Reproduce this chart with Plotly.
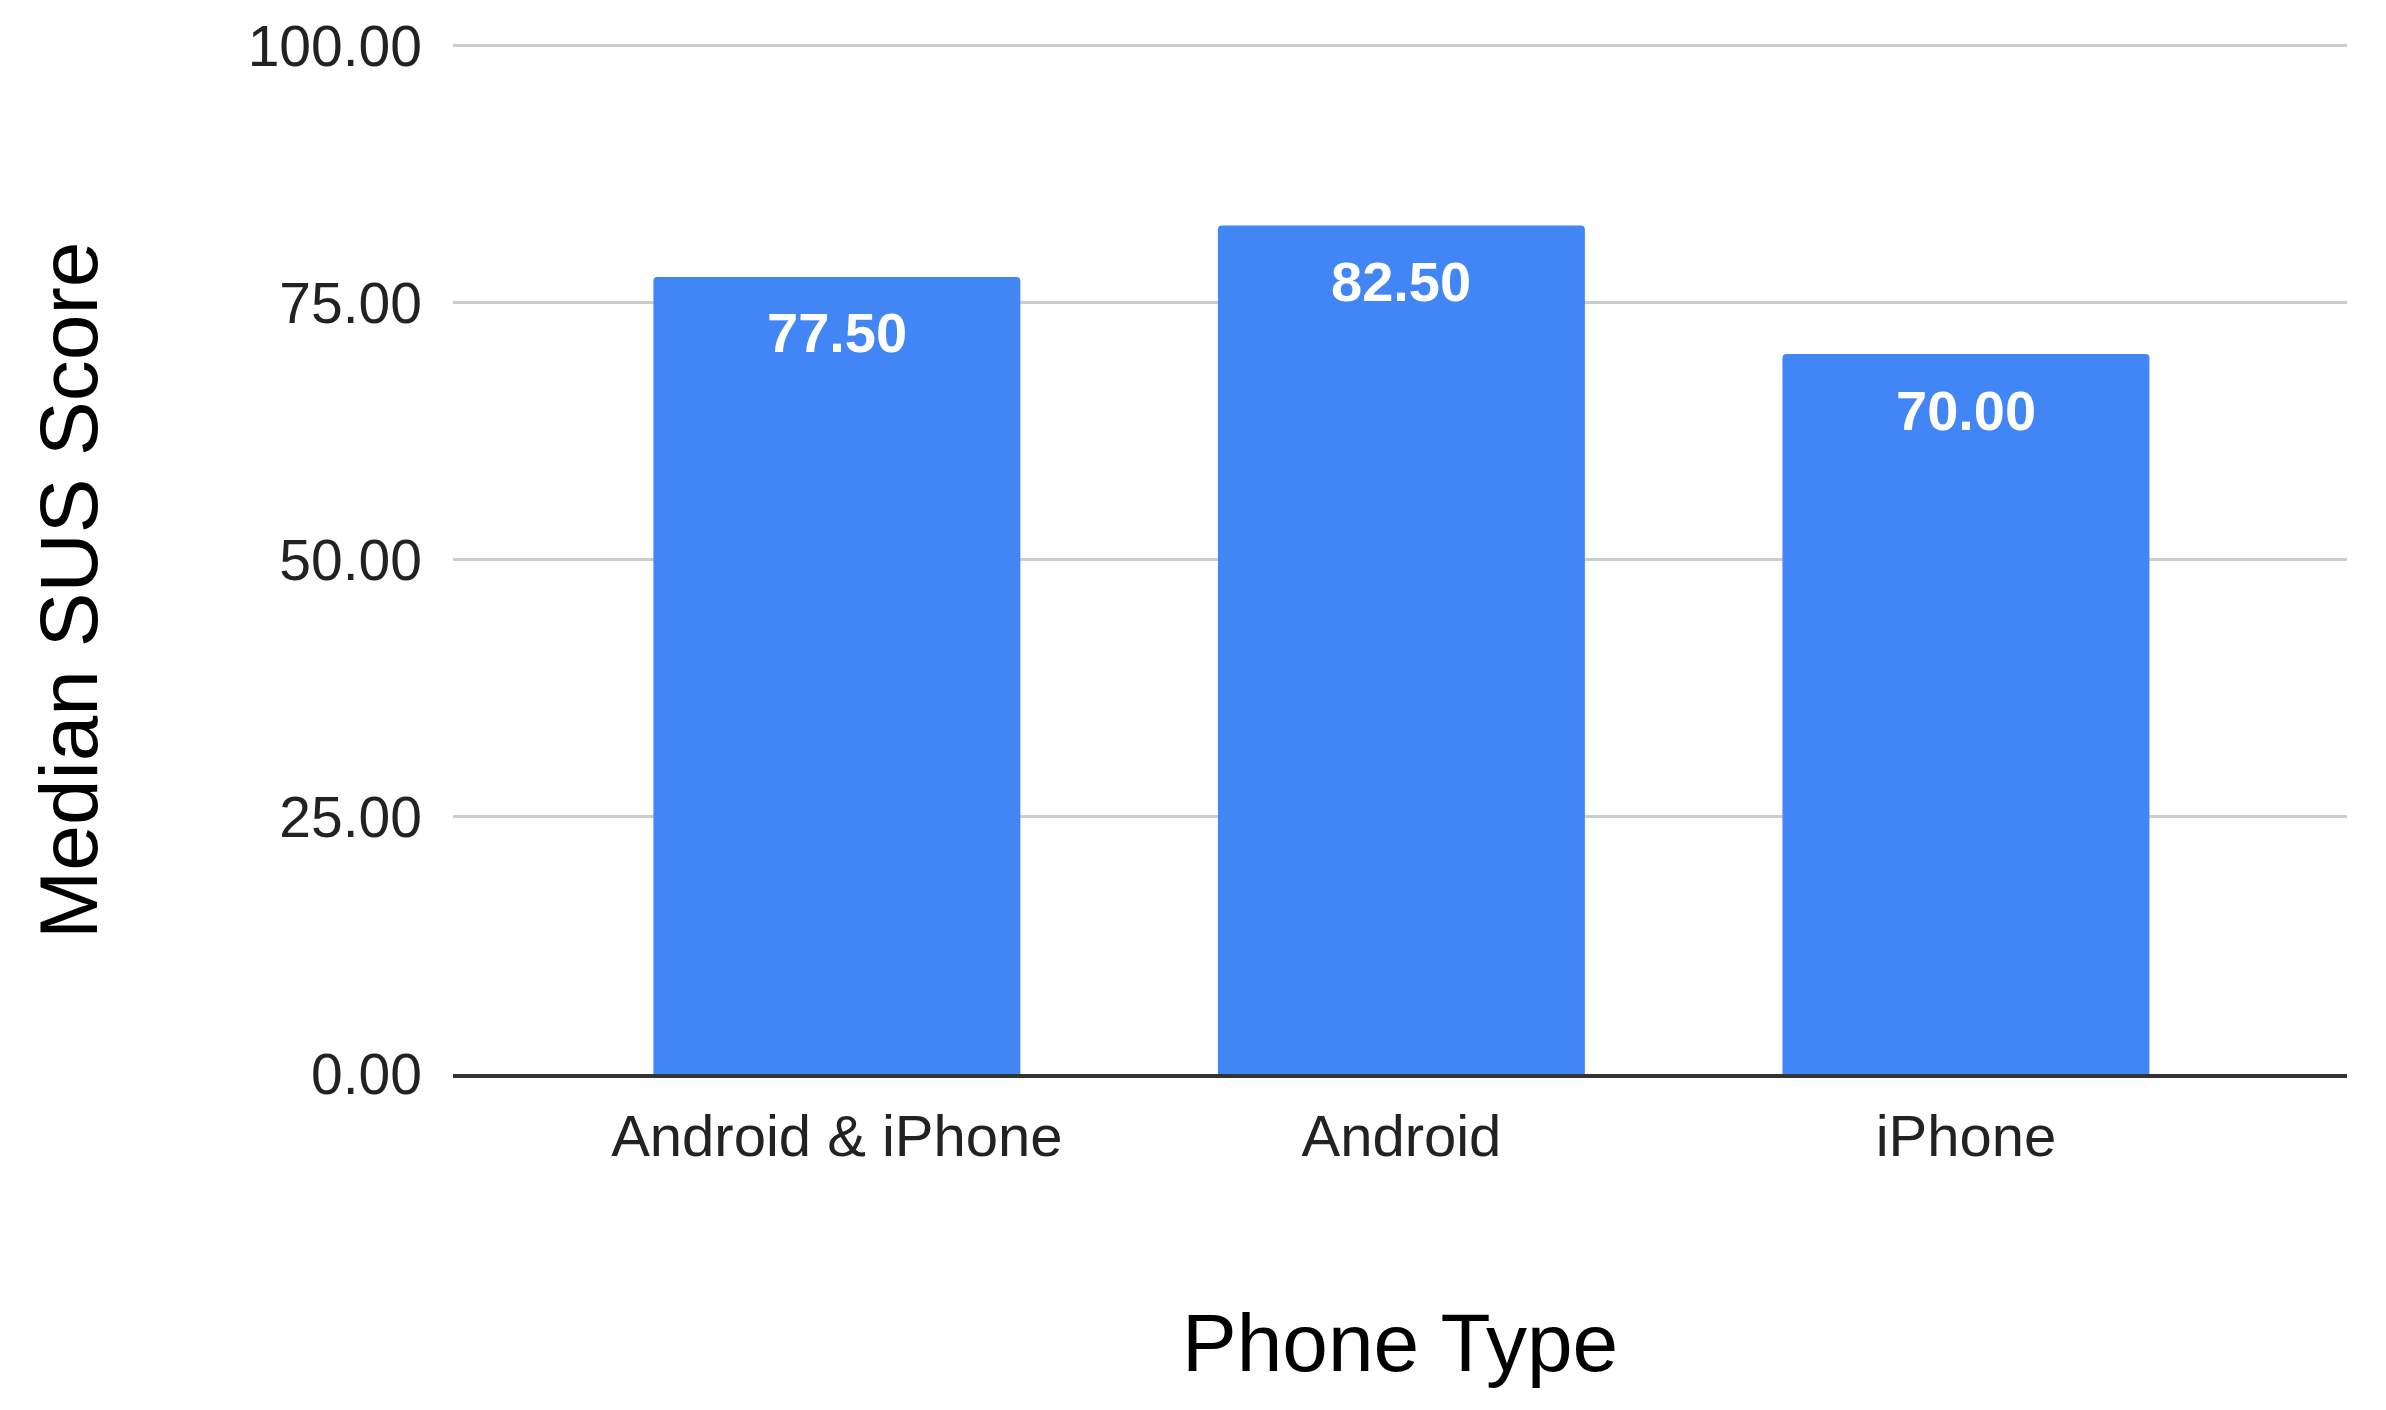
import plotly.graph_objects as go

categories = ["Android & iPhone", "Android", "iPhone"]
median_sus = [77.50, 82.50, 70.00]
y_ticks = [0, 25, 50, 75, 100]
y_tick_labels = ["0.00", "25.00", "50.00", "75.00", "100.00"]

FONT = "Liberation Sans, Arial, sans-serif"

W, H = 2386, 1410
L, R, T, B = 445, 47, 35, 344
plot_w = W - L - R
plot_h = H - T - B


def px_x(x):
    return (x - L) / plot_w


def px_y(y):
    return (H - B - y) / plot_h


fig = go.Figure()
fig.add_trace(go.Bar(
    x=categories, y=median_sus, width=0.65,
    marker=dict(color="#4285F4", cornerradius=4, line=dict(width=0)),
    hoverinfo="skip",
))

for c, v in zip(categories, median_sus):
    fig.add_annotation(x=c, y=v, xref="x", yref="y", text=f"{v:.2f}",
                       showarrow=False, yanchor="middle", yshift=-56,
                       font=dict(family=FONT, size=56, color="white", weight="bold"))

fig.add_annotation(x=px_x(1392), y=px_y(1334), xref="paper", yref="paper",
                   text="Phone Type", showarrow=False, xanchor="center", yanchor="middle",
                   font=dict(family=FONT, size=82, color="#000000"))
fig.add_annotation(x=px_x(60), y=px_y(583), xref="paper", yref="paper",
                   text="Median SUS Score", showarrow=False, textangle=-90,
                   xanchor="center", yanchor="middle",
                   font=dict(family=FONT, size=82, color="#000000"))

fig.update_layout(
    width=W, height=H,
    margin=dict(l=L, r=R, t=T, b=B, autoexpand=False),
    paper_bgcolor="white", plot_bgcolor="white",
    showlegend=False,
    font=dict(family=FONT, color="#222222"),
    xaxis=dict(
        type="category", range=[-0.68, 2.675], automargin=False,
        showline=True, linecolor="#333333", linewidth=4,
        showgrid=False, ticks="", tickfont=dict(size=58, color="#222222"),
        ticklabelstandoff=8,
    ),
    yaxis=dict(
        range=[0, 100.25], tickvals=y_ticks, ticktext=y_tick_labels, automargin=False,
        showgrid=True, gridcolor="#CCCCCC", gridwidth=3,
        zeroline=False, showline=False, ticks="",
        tickfont=dict(size=57, color="#222222"), ticklabelstandoff=30,
    ),
)

fig.write_html("out.html")
